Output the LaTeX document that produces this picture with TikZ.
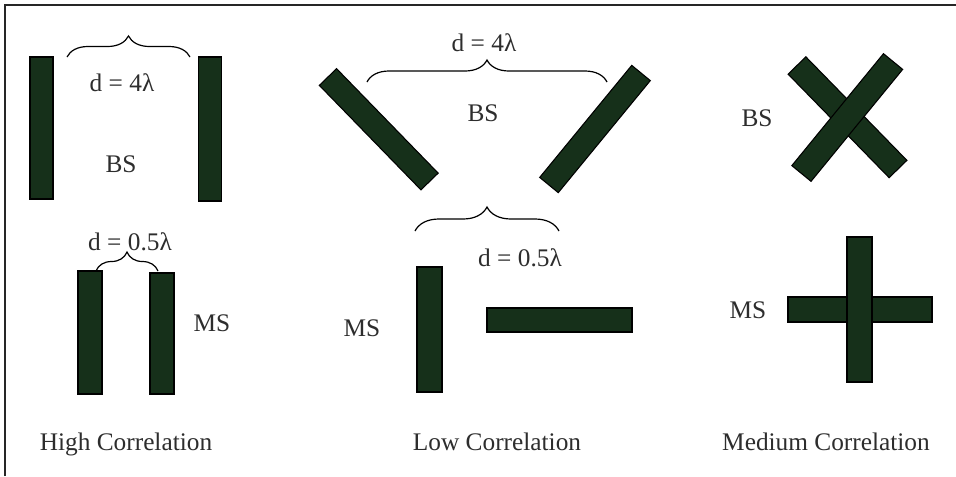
\documentclass[tikz,border=0pt]{standalone}
\usepackage{fontspec}
\setmainfont{Liberation Serif}
\usetikzlibrary{decorations.pathreplacing}

\definecolor{barfill}{RGB}{22,48,26}
\definecolor{txtgray}{RGB}{45,45,45}

\begin{document}
\begin{tikzpicture}[x=0.75pt, y=-0.75pt,
  elem/.style={draw=black, line width=0.8pt, fill=barfill, inner sep=0pt, outer sep=0pt},
  vbar/.style={elem, minimum width=18pt, minimum height=#1},
  hbar/.style={elem, minimum height=18pt, minimum width=#1},
  lbl/.style={text=txtgray, font=\fontsize{19}{22}\selectfont, inner sep=1pt},
  brc/.style={decorate, decoration={brace, amplitude=#1}, line width=0.9pt}]
  \useasboundingbox (0,0) rectangle (956,476);

  % frame (left and top edges only)
  \draw[line width=1.6pt, black!85] (5,476) -- (5,5) -- (956,5);

  % brace ends
  \coordinate (hiBSl) at (67,57);
  \coordinate (hiBSr) at (190,57);
  \coordinate (hiMSl) at (96,271);
  \coordinate (hiMSr) at (158,271);
  \coordinate (loBSl) at (367,82);
  \coordinate (loBSr) at (607,82);
  \coordinate (loMSl) at (415,231);
  \coordinate (loMSr) at (559,231);

  % high correlation
  \node[vbar=106.5pt, minimum width=17.25pt] (hiBSa) at (41.5,128) {};
  \node[vbar=108pt, minimum width=17.25pt] (hiBSb) at (210,129) {};
  \node[vbar=92.25pt] (hiMSa) at (90,332.5) {};
  \node[vbar=90.75pt] (hiMSb) at (162,333.5) {};
  \draw[brc=15.75pt] (hiBSl) -- (hiBSr);
  \draw[brc=14.25pt] (hiMSl) -- (hiMSr);
  \node[lbl] at (122,83) {d = 4λ};
  \node[lbl] at (121,164) {BS};
  \node[lbl] at (130,242) {d = 0.5λ};
  \node[lbl] at (212,323) {MS};
  \node[lbl] at (126,444) {High Correlation};

  % low correlation
  \node[hbar=109.3pt, rotate=-45.8] (loBSa) at (378.75,129.25) {};
  \node[hbar=108.75pt, rotate=50.6] (loBSb) at (595,129) {};
  \node[vbar=93.75pt, minimum width=18.75pt] (loMSa) at (429.5,329.5) {};
  \node[hbar=108.75pt] (loMSb) at (559.5,320) {};
  \draw[brc=16.5pt] (loBSl) -- (loBSr);
  \draw[brc=18pt] (loMSl) -- (loMSr);
  \node[lbl] at (484,43) {d = 4λ};
  \node[lbl] at (483,113) {BS};
  \node[lbl] at (520,258) {d = 0.5λ};
  \node[lbl] at (362,328) {MS};
  \node[lbl] at (497,442) {Low Correlation};

  % medium correlation
  \node[hbar=108.5pt, minimum height=18.6pt, rotate=-45.7] (meBSa) at (847.5,117.25) {};
  \node[hbar=108.5pt, minimum height=18.6pt, rotate=50.7] (meBSb) at (847.25,117.5) {};
  \node[hbar=108pt, minimum height=18.75pt] (meMSa) at (860,309.5) {};
  \node[vbar=108.75pt, minimum width=18.75pt] (meMSb) at (859.5,309.5) {};
  \node[lbl] at (757,118) {BS};
  \node[lbl] at (748,310) {MS};
  \node[lbl] at (826,442) {Medium Correlation};
\end{tikzpicture}
\end{document}
